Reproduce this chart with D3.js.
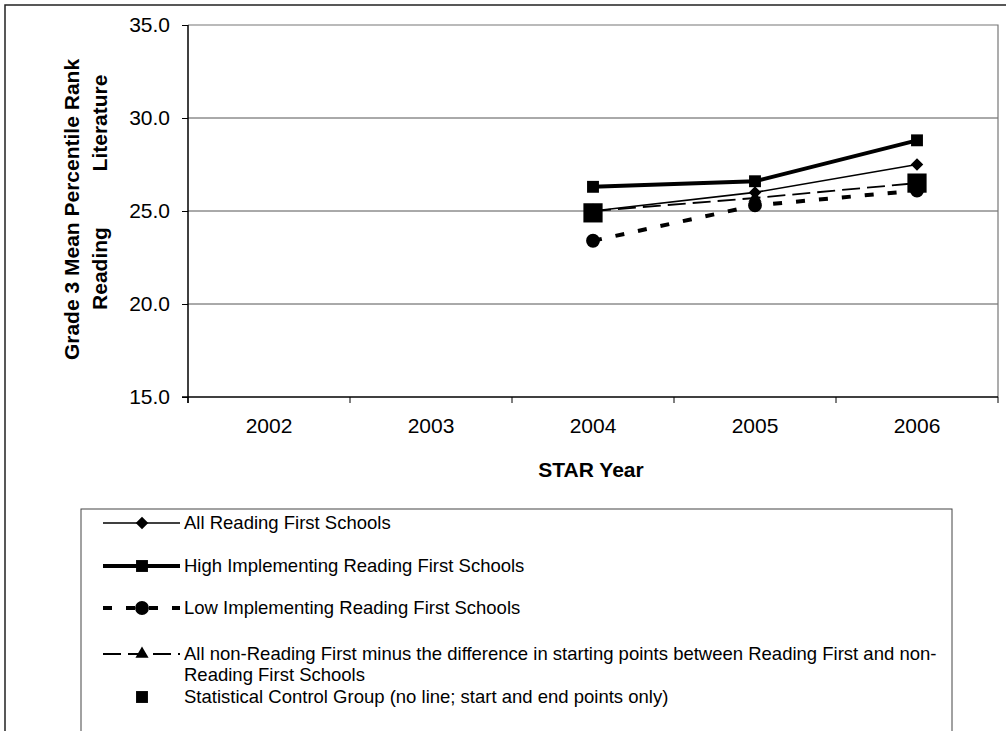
<!DOCTYPE html>
<html>
<head>
<meta charset="utf-8">
<script src="https://cdn.jsdelivr.net/npm/d3@7"></script>
<style>
  html, body { margin: 0; padding: 0; background: #fff; }
  svg { display: block; }
  text { font-family: "Liberation Sans", Arial, sans-serif; fill: #000; }
</style>
</head>
<body>
<svg id="chart" width="1006" height="731"></svg>
<script>
// STAR years on the category axis
const years = ["2002", "2003", "2004", "2005", "2006"];

// Grade 3 mean percentile rank, Reading Literature (null = no data)
const allReadingFirst   = [null, null, 25.0, 26.0, 27.5];
const highImplementing  = [null, null, 26.3, 26.6, 28.8];
const lowImplementing   = [null, null, 23.4, 25.3, 26.1];
const nonRFAdjusted     = [null, null, 25.0, 25.7, 26.5];
const statisticalControl = [null, null, 24.9, null, 26.5];

const yTicks = [15, 20, 25, 30, 35];

const seriesLabels = [
  "All Reading First Schools",
  "High Implementing Reading First Schools",
  "Low Implementing Reading First Schools",
  ["All non-Reading First minus the difference in starting points between Reading First and non-",
   "Reading First Schools"],
  "Statistical Control Group (no line; start and end points only)"
];

const svg = d3.select("#chart");

// plot area
const plot = { left: 188, right: 998, top: 25, bottom: 397 };

const x = d3.scaleBand().domain(years).range([plot.left, plot.right]);
const y = d3.scaleLinear().domain([15, 35]).range([plot.bottom, plot.top]);

// outer frame
svg.append("rect")
  .attr("x", 5).attr("y", 5).attr("width", 1200).attr("height", 900)
  .attr("fill", "none").attr("stroke", "#222").attr("stroke-width", 1.5);

// gridlines
svg.append("g")
  .selectAll("line")
  .data(yTicks.filter(t => t > 15 && t < 35))
  .join("line")
  .attr("x1", plot.left).attr("x2", plot.right)
  .attr("y1", d => y(d)).attr("y2", d => y(d))
  .attr("stroke", "#555").attr("stroke-width", 1);

// plot area top and right border
svg.append("path")
  .attr("d", `M${plot.left},${y(35)}H${plot.right}V${plot.bottom}`)
  .attr("fill", "none").attr("stroke", "#777").attr("stroke-width", 1.2);

// y axis
const yAxis = svg.append("g")
  .attr("transform", `translate(${plot.left},0)`)
  .call(d3.axisLeft(y).tickValues(yTicks).tickFormat(d3.format(".1f")).tickSize(6).tickPadding(12));
yAxis.select(".domain").attr("stroke", "#000").attr("stroke-width", 1.5)
  .attr("d", `M0,${plot.top}V${plot.bottom + 6}`);
yAxis.selectAll(".tick line").attr("stroke", "#000");
yAxis.selectAll("text").style("font-size", "21px").attr("fill", "#000");

// x axis: labels centred in each category, ticks on category boundaries
const xAxis = svg.append("g")
  .attr("transform", `translate(0,${plot.bottom})`)
  .call(d3.axisBottom(x).tickSize(0).tickPadding(21));
xAxis.select(".domain").remove();
xAxis.selectAll("text").style("font-size", "21px").attr("fill", "#000");
xAxis.append("line")
  .attr("x1", plot.left - 6).attr("x2", plot.right)
  .attr("stroke", "#000").attr("stroke-width", 1.5);
xAxis.selectAll(".bound")
  .data(years.map(d => x(d)).concat([x.range()[1]]))
  .join("line")
  .attr("class", "bound")
  .attr("x1", d => d).attr("x2", d => d)
  .attr("y1", 0).attr("y2", 6)
  .attr("stroke", "#000").attr("stroke-width", 1);

// axis titles
svg.append("text")
  .attr("x", 591).attr("y", 477)
  .attr("text-anchor", "middle")
  .style("font-size", "21px").style("font-weight", "bold")
  .text("STAR Year");

svg.append("text")
  .attr("transform", "translate(72,209.5) rotate(-90)")
  .attr("text-anchor", "middle").attr("dy", "0.35em")
  .style("font-size", "21px").style("font-weight", "bold")
  .text("Grade 3 Mean Percentile Rank");
svg.append("text")
  .attr("transform", "translate(100,268.5) rotate(-90)")
  .attr("text-anchor", "middle").attr("dy", "0.35em")
  .style("font-size", "21px").style("font-weight", "bold")
  .text("Reading");
svg.append("text")
  .attr("transform", "translate(100,123) rotate(-90)")
  .attr("text-anchor", "middle").attr("dy", "0.35em")
  .style("font-size", "21px").style("font-weight", "bold")
  .text("Literature");

// series styling
const series = [
  { values: allReadingFirst,    width: 1.6, dash: null,   symbol: d3.symbolDiamond2, size: 100, bigSize: null, line: true },
  { values: highImplementing,   width: 4,   dash: null,   symbol: d3.symbolSquare2,  size: 180, bigSize: null, line: true },
  { values: lowImplementing,    width: 4,   dash: "9,14", symbol: d3.symbolCircle,   size: 150, bigSize: null, line: true },
  { values: nonRFAdjusted,      width: 1.8, dash: "18,7", symbol: d3.symbolTriangle, size: 75,  bigSize: null, line: true },
  { values: statisticalControl, width: 0,   dash: null,   symbol: d3.symbolSquare2,  size: 180, bigSize: 470,  line: false }
];

const cx = d => x(d) + x.bandwidth() / 2;
const lineGen = d3.line()
  .defined(d => d.v != null)
  .x(d => cx(d.year))
  .y(d => y(d.v));

const marks = svg.append("g");
series.forEach(s => {
  const pts = years.map((yr, i) => ({ year: yr, v: s.values[i] }));
  if (s.line) {
    marks.append("path")
      .datum(pts)
      .attr("d", lineGen)
      .attr("fill", "none").attr("stroke", "#000")
      .attr("stroke-width", s.width)
      .attr("stroke-dasharray", s.dash);
  }
});
// markers drawn after all lines; triangles first so others sit above them
[3, 0, 1, 2, 4].forEach(k => {
  const s = series[k];
  const pts = years.map((yr, i) => ({ year: yr, v: s.values[i] })).filter(d => d.v != null);
  marks.append("g")
    .selectAll("path")
    .data(pts)
    .join("path")
    .attr("transform", d => `translate(${cx(d.year)},${y(d.v)})`)
    .attr("d", d3.symbol().type(s.symbol).size(s.bigSize || s.size))
    .attr("fill", "#000");
});

// legend
const legend = svg.append("g");
legend.append("rect")
  .attr("x", 81).attr("y", 509).attr("width", 871).attr("height", 400)
  .attr("fill", "none").attr("stroke", "#444").attr("stroke-width", 1);

const rowY = [523, 566, 608, 654, 697];
series.forEach((s, i) => {
  const g = legend.append("g").attr("transform", `translate(0,${rowY[i]})`);
  if (s.line) {
    g.append("line")
      .attr("x1", 103).attr("x2", 180)
      .attr("stroke", "#000").attr("stroke-width", s.width)
      .attr("stroke-dasharray", s.dash);
  }
  g.append("path")
    .attr("transform", "translate(142,0)")
    .attr("d", d3.symbol().type(s.symbol).size(s.size))
    .attr("fill", "#000");
  const lines = Array.isArray(seriesLabels[i]) ? seriesLabels[i] : [seriesLabels[i]];
  lines.forEach((t, j) => {
    g.append("text")
      .attr("x", 184).attr("y", 5.5 + j * 21.5)
      .style("font-size", "18.5px")
      .text(t);
  });
});
</script>
</body>
</html>
